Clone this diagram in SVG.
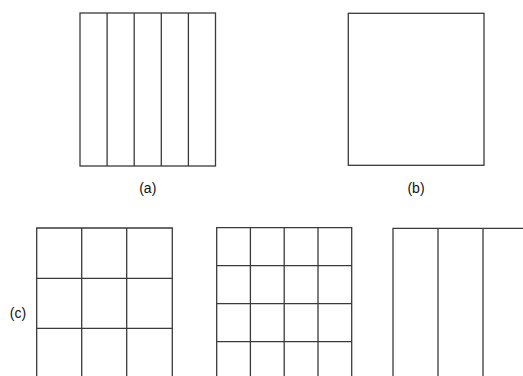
<svg xmlns="http://www.w3.org/2000/svg" width="523" height="376" viewBox="0 0 523 376">
<style>
.g{fill:none;stroke:#3a3a3a;stroke-width:1.3}
.t{font-family:"Liberation Sans",Arial,sans-serif;font-size:14px;fill:#111;text-anchor:middle}
</style>
<rect width="523" height="376" fill="#fff"/>
<g id="a">
<rect class="g" x="80" y="13" width="135.5" height="153"/>
<path class="g" d="M107.1 13V166M134.2 13V166M161.3 13V166M188.4 13V166"/>
<text class="t" x="147.75" y="193">(a)</text>
</g>
<g id="b">
<rect class="g" x="348.3" y="13.3" width="135.7" height="152"/>
<text class="t" x="416" y="193">(b)</text>
</g>
<g id="c1">
<path class="g" d="M36.7 380V228H172.3V380M81.7 228V380M126.7 228V380M36.7 278.3H172.3M36.7 328.3H172.3"/>
<text class="t" x="18" y="318">(c)</text>
</g>
<g id="c2">
<path class="g" d="M216.7 380V227.7H351.7V380M250.4 227.7V380M284.2 227.7V380M318 227.7V380M216.7 265.7H351.7M216.7 303.7H351.7M216.7 341.7H351.7"/>
</g>
<g id="c3">
<path class="g" d="M393 380V228.3H530M438 228.3V380M483 228.3V380"/>
</g>
</svg>
